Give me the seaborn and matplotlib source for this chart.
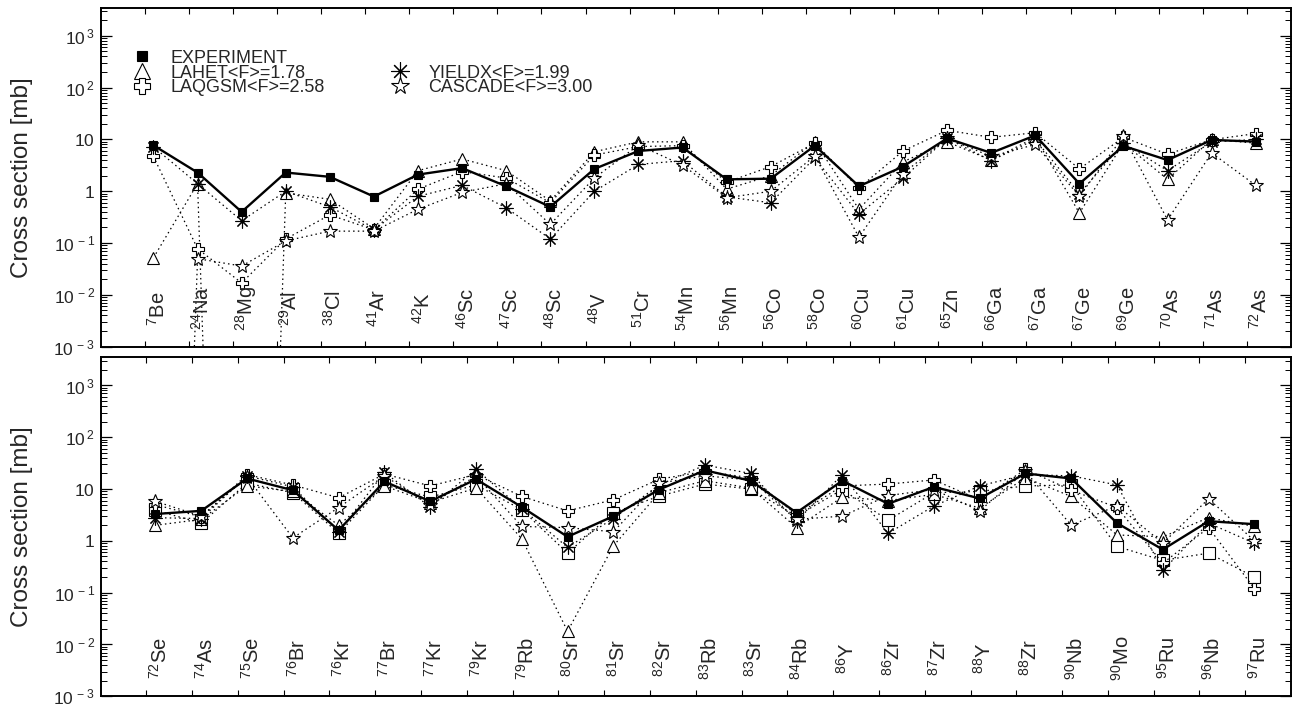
import re
import numpy as np
import pandas as pd
import matplotlib
matplotlib.use("Agg")
import matplotlib.pyplot as plt
from matplotlib.lines import Line2D
from matplotlib.ticker import FixedLocator, FuncFormatter, LogLocator, NullFormatter
import seaborn as sns

sns.set_theme(style="white")
plt.rcParams["font.family"] = ["Liberation Sans", "DejaVu Sans"]
plt.rcParams["mathtext.default"] = "regular"

# values (mb); 1e-25 marks points that fall far below the axis
cats_top = ["7Be", "24Na", "28Mg", "29Al", "38Cl", "41Ar", "42K", "46Sc", "47Sc", "48Sc",
            "48V", "51Cr", "54Mn", "56Mn", "56Co", "58Co", "60Cu", "61Cu", "65Zn", "66Ga",
            "67Ga", "67Ge", "69Ge", "70As", "71As", "72As"]
exp_top = [7.7, 2.3, 0.40, 2.3, 1.9, 0.79, 2.1, 2.8, 1.25, 0.50, 2.7, 6.0, 7.0, 1.7, 1.75,
           7.6, 1.25, 3.0, 10.5, 5.5, 12.0, 1.4, 7.5, 4.0, 9.8, 9.1]
lahet_top = [0.052, 1.4, 1e-25, 0.93, 0.70, 0.19, 2.5, 4.2, 2.5, 0.65, 5.8, 9.0, 9.0, 1.1,
             2.0, 9.0, 0.45, 3.7, 9.0, 4.0, 11.0, 0.38, 8.5, 1.7, 10.0, 8.5]
laqgsm_top = [4.7, 0.078, 0.017, 0.12, 0.35, 0.18, 1.1, 2.4, 1.8, 0.60, 5.0, 7.3, 7.6, 1.5,
              3.0, 8.5, 1.15, 6.0, 15.0, 11.0, 13.5, 2.7, 11.0, 5.2, 9.9, 13.0]
yieldx_top = [7.2, 1.4, 0.27, 1.0, 0.50, 0.18, 0.80, 1.3, 0.48, 0.12, 1.0, 3.3, 3.9, 0.78,
              0.60, 4.4, 0.36, 1.8, 10.5, 3.9, 10.0, 0.90, 8.5, 2.5, 9.0, 10.0]
cascade_top = [1e-25, 0.050, 0.036, 0.11, 0.17, 0.17, 0.45, 0.95, 1.4, 0.23, 1.8, 7.8, 3.2,
               0.75, 1.0, 4.8, 0.13, 2.2, 10.5, 4.7, 8.0, 0.80, 11.5, 0.28, 5.5, 1.3]

cats_bot = ["72Se", "74As", "75Se", "76Br", "76Kr", "77Br", "77Kr", "79Kr", "79Rb", "80Sr",
            "81Sr", "82Sr", "83Rb", "83Sr", "84Rb", "86Y", "86Zr", "87Zr", "88Y", "88Zr",
            "90Nb", "90Mo", "95Ru", "96Nb", "97Ru"]
exp_bot = [3.3, 3.8, 16.0, 9.5, 1.6, 14.0, 5.8, 15.5, 4.5, 1.2, 3.0, 9.8, 23.0, 14.5, 3.5,
           14.5, 5.2, 11.0, 6.6, 20.0, 16.0, 2.2, 0.68, 2.4, 2.1]
lahet_bot = [2.0, 2.6, 11.5, 9.0, 2.0, 11.5, 5.5, 10.5, 1.1, 0.018, 0.80, 8.5, 14.5, 10.5,
             1.8, 7.0, 6.0, 7.9, 4.3, 16.5, 7.2, 1.3, 1.2, 2.8, 1.9]
laqgsm_bot = [5.0, 2.9, 19.0, 12.0, 6.8, 19.5, 11.5, 19.0, 7.2, 3.8, 6.2, 15.5, 22.0, 16.5,
              3.2, 11.5, 12.5, 15.0, 6.2, 24.0, 9.5, 4.4, 0.37, 1.8, 0.12]
yieldx_bot = [2.8, 2.7, 18.0, 11.0, 1.5, 21.0, 4.5, 24.0, 4.2, 0.75, 2.7, 12.0, 29.0, 20.0,
              2.4, 19.0, 1.4, 4.7, 11.5, 19.0, 18.0, 12.0, 0.27, 2.2, 0.90]
cascade_bot = [5.8, 3.0, 17.0, 1.14, 4.4, 18.0, 5.0, 18.0, 1.9, 1.8, 1.5, 13.0, 18.0, 15.0,
               2.6, 3.0, 7.5, 9.8, 3.8, 22.0, 2.0, 4.8, 0.90, 6.5, 1.0]
other_bot = [3.9, 2.2, 13.0, 8.5, 1.4, 12.0, 7.0, 12.0, 4.0, 0.58, 3.5, 7.3, 12.5, 10.0,
             3.0, 9.8, 2.5, 8.5, 9.0, 11.5, 12.0, 0.78, 0.42, 0.58, 0.20]

legend_labels = {
    "exp": "EXPERIMENT",
    "lahet": "LAHET<F>=1.78",
    "laqgsm": "LAQGSM<F>=2.58",
    "yieldx": "YIELDX<F>=1.99",
    "cascade": "CASCADE<F>=3.00",
}

ASTERISK = (8, 2, 0)
DOTS = (0, (1.2, 2.6))
styles = {
    "other":   dict(marker="s", markersize=8, markerfacecolor="white", linestyle=DOTS, linewidth=0.9),
    "lahet":   dict(marker="^", markersize=9, markerfacecolor="white", linestyle=DOTS, linewidth=0.9),
    "laqgsm":  dict(marker="P", markersize=8.5, markerfacecolor="white", linestyle=DOTS, linewidth=0.9),
    "yieldx":  dict(marker=ASTERISK, markersize=10, markerfacecolor="black", linestyle=DOTS, linewidth=0.9),
    "cascade": dict(marker="*", markersize=10, markerfacecolor="white", linestyle=DOTS, linewidth=0.9),
    "exp":     dict(marker="s", markersize=6, markerfacecolor="black", linestyle="-", linewidth=1.7),
}

X_OFFSET = 0.2
YMIN, YMAX = 1e-3, 3.5e3
LABEL_Y = 10 ** -2.26


def ytick_text(v, pos):
    e = int(round(np.log10(v)))
    if e == 0:
        return "1" + r"$\ \ $"
    if e == 1:
        return "10" + r"$\ \ $"
    return r"$10^{\,%d}$" % e


def iso_label(s):
    m = re.match(r"(\d+)(\D+)", s)
    return r"$^{%s}$%s" % (m.group(1), m.group(2))


def draw_panel(ax, cats, series):
    n = len(cats)
    xpos = np.arange(1, n + 1) + X_OFFSET
    ax.set_yscale("log")
    for key, vals in series:
        df = pd.DataFrame({"x": xpos, "y": vals})
        sns.lineplot(data=df, x="x", y="y", ax=ax, color="black", estimator=None,
                     sort=False, legend=False, markeredgecolor="black",
                     markeredgewidth=0.8, **styles[key])
    ax.set_xlim(0, n + 1)
    ax.set_ylim(YMIN, YMAX)
    ax.set_xlabel("")
    ax.set_ylabel("Cross section [mb]", fontsize=17.5)
    ax.yaxis.set_label_coords(-0.0567, 0.5)

    ax.xaxis.set_major_locator(FixedLocator(np.arange(1, n + 1)))
    ax.xaxis.set_major_formatter(NullFormatter())
    ax.tick_params(axis="x", which="major", direction="in", length=4, width=0.8,
                   top=True, bottom=True, color="black")
    ax.yaxis.set_major_locator(FixedLocator([10.0 ** e for e in range(-3, 4)]))
    ax.yaxis.set_major_formatter(FuncFormatter(ytick_text))
    ax.yaxis.set_minor_locator(LogLocator(base=10, subs=np.arange(2, 10), numticks=20))
    ax.yaxis.set_minor_formatter(NullFormatter())
    ax.tick_params(axis="y", which="major", direction="in", length=8, width=0.9,
                   left=True, right=True, labelsize=12.5, pad=4, color="black")
    ax.tick_params(axis="y", which="minor", direction="in", length=4, width=0.7,
                   left=True, right=True, color="black")
    for sp in ax.spines.values():
        sp.set_color("black")
        sp.set_linewidth(1.4)

    for x, c in zip(xpos, cats):
        ax.text(x + 0.1, LABEL_Y, iso_label(c), rotation=90, ha="center", va="center",
                fontsize=14.5)


fig = plt.figure(figsize=(12.94, 7.11), dpi=100)
ax_top = fig.add_axes([0.0777, 0.5124, 0.9200, 0.4768])
ax_bot = fig.add_axes([0.0777, 0.0207, 0.9200, 0.4768])

draw_panel(ax_top, cats_top, [
    ("lahet", lahet_top), ("laqgsm", laqgsm_top), ("yieldx", yieldx_top),
    ("cascade", cascade_top), ("exp", exp_top)])

draw_panel(ax_bot, cats_bot, [
    ("other", other_bot), ("lahet", lahet_bot), ("laqgsm", laqgsm_bot),
    ("yieldx", yieldx_bot), ("cascade", cascade_bot), ("exp", exp_bot)])

blank = Line2D([], [], linestyle="none", marker=None)


def legend_handle(key):
    st = styles[key]
    return Line2D([], [], linestyle="none", color="black", marker=st["marker"],
                  markersize=st["markersize"], markerfacecolor=st["markerfacecolor"],
                  markeredgecolor="black", markeredgewidth=0.8)


leg_handles = [legend_handle("exp"), legend_handle("lahet"), legend_handle("laqgsm"),
               blank, legend_handle("yieldx"), legend_handle("cascade")]
leg_labels = [legend_labels["exp"], legend_labels["lahet"], legend_labels["laqgsm"],
              " ", legend_labels["yieldx"], legend_labels["cascade"]]
ax_top.legend(leg_handles, leg_labels, loc="upper left", bbox_to_anchor=(0.0273, 0.876),
              ncol=2, frameon=False, fontsize=13, handlelength=1.0, handletextpad=1.05,
              labelspacing=-0.12, columnspacing=3.7, borderpad=0, borderaxespad=0,
              markerscale=1.3)

fig.savefig("out.png", dpi=100)
